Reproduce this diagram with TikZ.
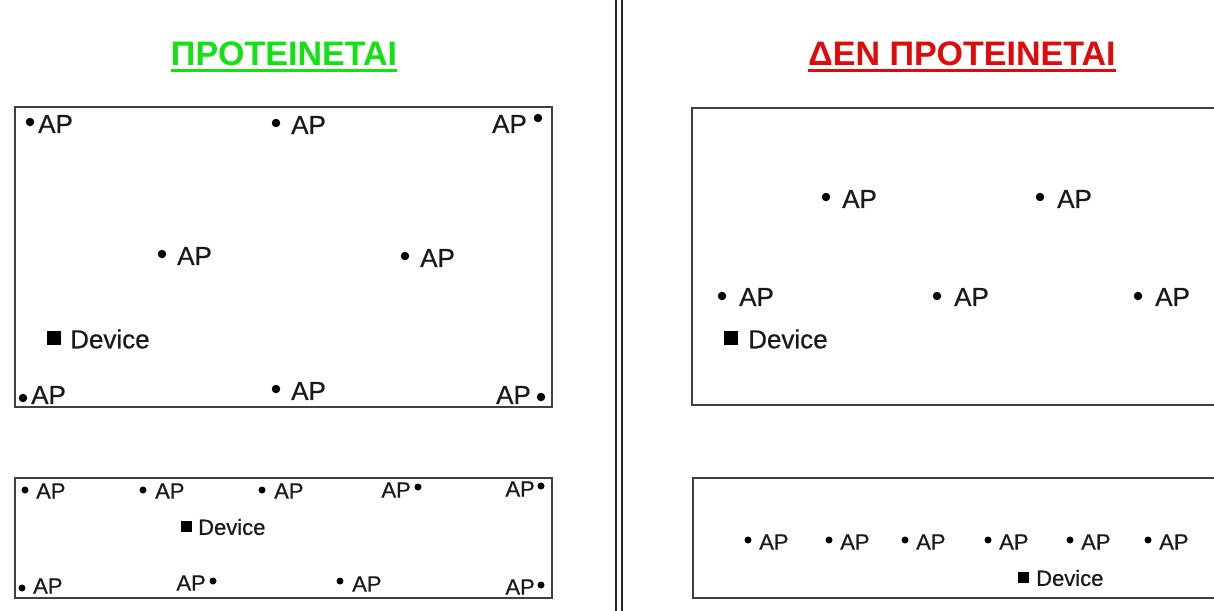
\documentclass[tikz,border=0pt]{standalone}
\usepackage{fontspec}
\setmainfont{Liberation Sans}
\newfontfamily\labelfont[FakeBold=0.5]{Liberation Sans}
\begin{document}
\begin{tikzpicture}[x=1pt,y=-1pt,
  frame/.style={draw=black!75,line width=1.8pt},
  sepline/.style={draw=black!85,line width=1.7pt},
  dotbig/.style={circle,fill=black,inner sep=0pt,minimum size=8.5pt},
  dotsmall/.style={circle,fill=black,inner sep=0pt,minimum size=7pt},
  sqbig/.style={rectangle,fill=black,inner sep=0pt,minimum size=14pt},
  sqsmall/.style={rectangle,fill=black,inner sep=0pt,minimum size=11pt},
  lblbig/.style={inner sep=0pt,text=black!90,font=\labelfont\fontsize{26}{30}\selectfont},
  lblsmall/.style={inner sep=0pt,text=black!90,font=\labelfont\fontsize{22}{26}\selectfont},
  title/.style={inner sep=0pt,font=\bfseries\fontsize{34}{40}\selectfont},
  uline/.style={line width=3pt}]
\clip (0,0) rectangle (1214,610);
\fill[white] (0,0) rectangle (1214,610);

% column separator
\draw[sepline] (616,-5) -- (616,615);
\draw[sepline] (622,-5) -- (622,615);

% titles
\definecolor{okgreen}{RGB}{20,225,20}
\definecolor{nored}{RGB}{225,10,10}
\node[title,text=okgreen] (tl) at (284,54) {ΠΡΟΤΕΙΝΕΤΑΙ};
\draw[okgreen,uline] ([yshift=-16pt]tl.west) -- ([yshift=-16pt]tl.east);
\node[title,text=nored] (tr) at (962,54) {ΔΕΝ ΠΡΟΤΕΙΝΕΤΑΙ};
\draw[nored,uline] ([yshift=-16pt]tr.west) -- ([yshift=-16pt]tr.east);

% frames
\draw[frame] (15,107) rectangle (552,407);
\draw[frame] (15,478) rectangle (552,598);
\draw[frame] (692,108) rectangle (1240,405);
\draw[frame] (693,478) rectangle (1240,598);

% left, large area
\node[dotbig] (a1) at (30,122) {};
\node[lblbig,anchor=west] (la1) at (38,124) {AP};
\node[dotbig] (a2) at (276,123) {};
\node[lblbig,anchor=west] (la2) at (291,125) {AP};
\node[dotbig] (a3) at (538,118) {};
\node[lblbig,anchor=east] (la3) at (527,124) {AP};
\node[dotbig] (a4) at (162,254) {};
\node[lblbig,anchor=west] (la4) at (177,256) {AP};
\node[dotbig] (a5) at (405,256) {};
\node[lblbig,anchor=west] (la5) at (420,258) {AP};
\node[sqbig] (dv1) at (54,338) {};
\node[lblbig,anchor=west] (ldv1) at (70,339) {Device};
\node[dotbig] (a6) at (23,398) {};
\node[lblbig,anchor=west] (la6) at (31,395) {AP};
\node[dotbig] (a7) at (276,389) {};
\node[lblbig,anchor=west] (la7) at (291,391) {AP};
\node[dotbig] (a8) at (541,397) {};
\node[lblbig,anchor=east] (la8) at (531,395) {AP};

% left, narrow area
\node[dotsmall] (b1) at (25,490) {};
\node[lblsmall,anchor=west] (lb1) at (36,491) {AP};
\node[dotsmall] (b2) at (143,490) {};
\node[lblsmall,anchor=west] (lb2) at (155,491) {AP};
\node[dotsmall] (b3) at (262,490) {};
\node[lblsmall,anchor=west] (lb3) at (274,491) {AP};
\node[dotsmall] (b4) at (418,487) {};
\node[lblsmall,anchor=east] (lb4) at (411,490) {AP};
\node[dotsmall] (b5) at (541,486) {};
\node[lblsmall,anchor=east] (lb5) at (535,489) {AP};
\node[sqsmall] (dv2) at (186,526) {};
\node[lblsmall,anchor=west] (ldv2) at (198,527) {Device};
\node[dotsmall] (b6) at (22,588) {};
\node[lblsmall,anchor=west] (lb6) at (33,586) {AP};
\node[dotsmall] (b7) at (213,581) {};
\node[lblsmall,anchor=east] (lb7) at (206,583) {AP};
\node[dotsmall] (b8) at (340,581) {};
\node[lblsmall,anchor=west] (lb8) at (352,584) {AP};
\node[dotsmall] (b9) at (541,585) {};
\node[lblsmall,anchor=east] (lb9) at (535,587) {AP};

% right, large area
\node[dotbig] (c1) at (826,197) {};
\node[lblbig,anchor=west] (lc1) at (842,199) {AP};
\node[dotbig] (c2) at (1040,197) {};
\node[lblbig,anchor=west] (lc2) at (1057,199) {AP};
\node[dotbig] (c3) at (722,296) {};
\node[lblbig,anchor=west] (lc3) at (739,297) {AP};
\node[dotbig] (c4) at (937,296) {};
\node[lblbig,anchor=west] (lc4) at (954,297) {AP};
\node[dotbig] (c5) at (1138,296) {};
\node[lblbig,anchor=west] (lc5) at (1155,297) {AP};
\node[sqbig] (dv3) at (731,338) {};
\node[lblbig,anchor=west] (ldv3) at (748,339) {Device};

% right, narrow area
\foreach \x [count=\i] in {748,829,905,988,1070,1148} {
  \node[dotsmall] (e\i) at (\x,540) {};
  \node[lblsmall,anchor=west] (le\i) at (\x+11,542) {AP};
}
\node[sqsmall] (dv4) at (1023,577) {};
\node[lblsmall,anchor=west] (ldv4) at (1036,578) {Device};
\end{tikzpicture}
\end{document}
